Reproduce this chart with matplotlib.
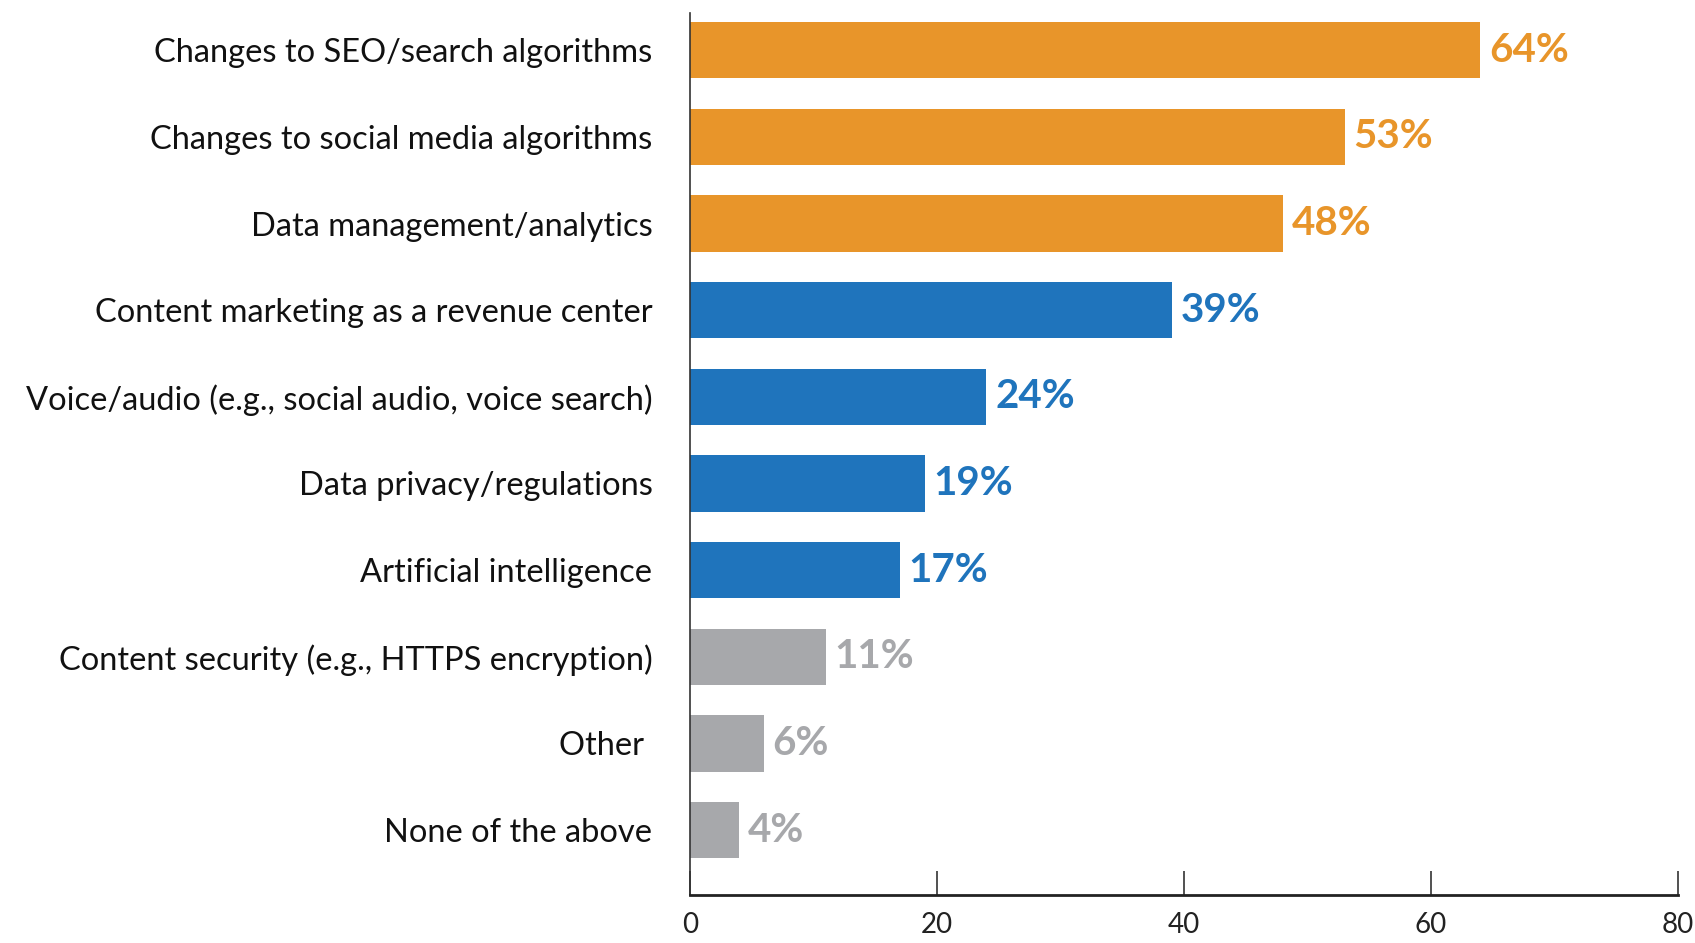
import matplotlib
matplotlib.use("Agg")
import matplotlib.pyplot as plt

# ======================================================
# Data
# ======================================================
categories = [
    "Changes to SEO/search algorithms",
    "Changes to social media algorithms",
    "Data management/analytics",
    "Content marketing as a revenue center",
    "Voice/audio (e.g., social audio, voice search)",
    "Data privacy/regulations",
    "Artificial intelligence",
    "Content security (e.g., HTTPS encryption)",
    "Other ",
    "None of the above",
]
values = [64, 53, 48, 39, 24, 19, 17, 11, 6, 4]
groups = ["top", "top", "top", "mid", "mid", "mid", "mid", "low", "low", "low"]
x_ticks = [0, 20, 40, 60, 80]

group_colors = {"top": "#E8952A", "mid": "#1F74BC", "low": "#A7A8AB"}

plt.rcParams["font.family"] = ["Lato", "DejaVu Sans"]

# ======================================================
# Plot
# ======================================================
fig = plt.figure(figsize=(16.95, 9.43), dpi=100)
ax = fig.add_axes([690 / 1695, (943 - 895) / 943, (1678 - 690) / 1695, (895 - 13) / 943])

colors = [group_colors[g] for g in groups]
ypos = list(range(len(categories)))
ax.barh(ypos, values, height=0.65, color=colors)

for y, v, c in zip(ypos, values, colors):
    ax.text(v + 0.7, y, f"{v}%", va="center", ha="left",
            fontsize=29, fontweight="bold", color=c)

ax.set_xlim(0, 80)
ax.set_ylim(9.75, -0.43)
ax.set_yticks(ypos)
ax.set_yticklabels(categories, fontsize=23.5, color="#111111")
ax.set_xticks(x_ticks)
ax.set_xticklabels([str(t) for t in x_ticks], fontsize=20, color="#222222")

ax.tick_params(axis="y", length=0, pad=27)
ax.tick_params(axis="x", direction="in", length=17, width=1.2, color="#333333", pad=12)

for s in ["top", "right"]:
    ax.spines[s].set_visible(False)
ax.spines["left"].set_color("#333333")
ax.spines["left"].set_linewidth(1.2)
ax.spines["bottom"].set_color("#222222")
ax.spines["bottom"].set_linewidth(2)

fig.savefig("out.png", dpi=100)
plt.close(fig)
